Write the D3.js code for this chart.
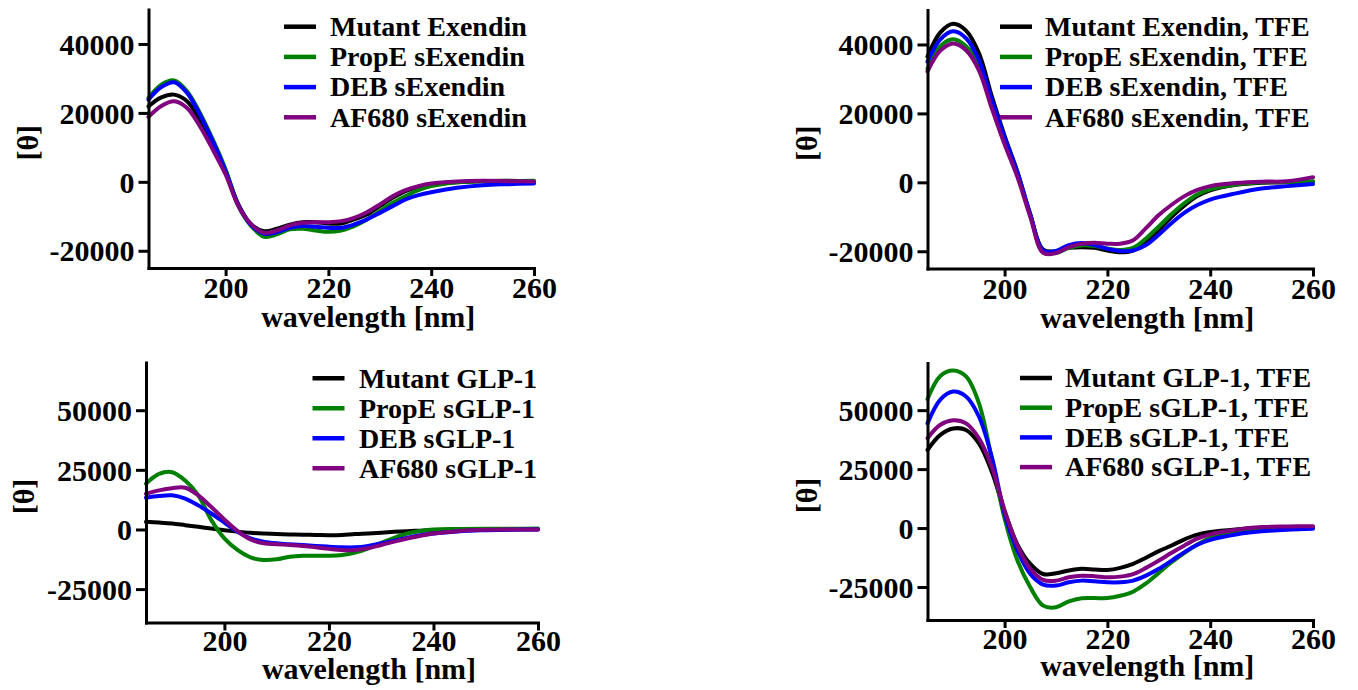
<!DOCTYPE html>
<html>
<head>
<meta charset="utf-8">
<script src="https://cdn.jsdelivr.net/npm/d3@7"></script>
<style>
  body { margin: 0; background: #ffffff; }
  svg { display: block; }
  text { font-family: "Liberation Serif", "Times New Roman", serif; font-weight: bold; fill: #000; }
</style>
</head>
<body>
<svg id="chart" width="1358" height="690"></svg>
<script>
// ---------- DATA ----------
const wavelengths = [185,187.5,190,192.5,195,197.5,200,202.5,205,207.5,210,212.5,215,217.5,220,222.5,225,227.5,230,232.5,235,237.5,240,245,250,255,260];

const xTicks = [200, 220, 240, 260];
const yTicksExendin = [-20000, 0, 20000, 40000];
const yTicksGLP = [-25000, 0, 25000, 50000];

const seriesColors = ["#000000", "#008000", "#0000ff", "#800080"];

// Panel A: Exendin (buffer)
const mutantExendin = [21900,24500,25300,23400,18000,11300,3100,-6600,-12400,-14300,-13600,-12400,-11700,-11700,-12100,-12100,-10900,-9500,-7050,-4640,-2700,-1450,-770,-100,200,300,100];
const propEExendin  = [24350,28200,29400,26300,20000,12300,3600,-7050,-12850,-15940,-15260,-13800,-13600,-14100,-14500,-14100,-12850,-10900,-8500,-6090,-4150,-2400,-1250,-100,200,200,300];
const debExendin    = [23860,27500,28900,25800,19500,11800,3100,-6860,-12650,-15070,-14600,-13330,-12850,-13040,-13330,-13330,-12360,-10900,-9000,-7050,-5120,-3860,-3000,-1740,-970,-680,-480];
const af680Exendin  = [18840,22000,23380,21450,16130,9370,2130,-7050,-12360,-14780,-14100,-12650,-11900,-11700,-11700,-11400,-10430,-8800,-6570,-4150,-2420,-1250,-480,100,300,200,100];
const legendExendin = ["Mutant Exendin", "PropE sExendin", "DEB sExendin", "AF680 sExendin"];

// Panel B: Exendin, TFE
const mutantExendinTFE = [36500,43500,46000,44000,37500,25000,13500,3000,-9500,-19500,-20000,-19000,-18800,-19000,-19800,-20300,-19800,-17300,-13800,-10000,-6700,-4000,-2300,-700,-100,0,200];
const propEExendinTFE  = [33000,39500,41500,39500,34000,23000,12500,2500,-9500,-20000,-20500,-19000,-18300,-18500,-19200,-19600,-19000,-16300,-12800,-9200,-6000,-3500,-2000,-600,0,100,300];
const debExendinTFE    = [35000,41500,43800,41800,35500,24000,13000,2800,-9200,-19800,-19900,-18200,-17600,-18200,-19300,-19900,-19800,-18200,-15200,-11800,-8800,-6600,-5000,-3200,-1800,-1100,-500];
const af680ExendinTFE  = [32200,38200,40300,38300,32500,21500,11000,1500,-10000,-20500,-20500,-18800,-17800,-17500,-17800,-17800,-16800,-13300,-9500,-6500,-4000,-2200,-1100,-200,200,300,1500];
const legendExendinTFE = ["Mutant Exendin, TFE", "PropE sExendin, TFE", "DEB sExendin, TFE", "AF680 sExendin, TFE"];

// Panel C: GLP-1 (buffer)
const mutantGLP = [3200,2900,2500,1800,1100,400,-300,-900,-1400,-1700,-1900,-2100,-2200,-2300,-2400,-2300,-1900,-1700,-1400,-1000,-700,-500,-300,0,100,100,100];
const propEGLP  = [19200,23300,24000,20500,14300,3900,-3750,-8600,-11700,-12800,-12500,-11400,-11000,-11000,-11000,-10700,-9700,-7900,-5600,-3500,-1700,-600,0,200,300,300,400];
const debGLP    = [13300,14000,14300,12900,10100,6700,2900,-1000,-3750,-5100,-5800,-6200,-6500,-6900,-7200,-7500,-7500,-6900,-5800,-4700,-3500,-2400,-1700,-700,-300,-100,0];
const af680GLP  = [15000,16400,17300,17500,14300,9400,4200,-600,-4200,-5800,-6200,-6500,-6900,-7500,-8100,-8600,-8600,-7900,-6500,-5100,-3800,-2600,-1700,-600,-100,0,0];
const legendGLP = ["Mutant GLP-1", "PropE sGLP-1", "DEB sGLP-1", "AF680 sGLP-1"];

// Panel D: GLP-1, TFE
const mutantGLPTFE = [33100,39500,42200,41600,35900,24000,7000,-7000,-15200,-19500,-19200,-18000,-17300,-17600,-17800,-16900,-15200,-12600,-9800,-7400,-4800,-2800,-1700,-600,0,200,400];
const propEGLPTFE  = [54700,64500,66800,64300,53000,29400,4000,-13800,-25100,-32900,-33600,-31100,-29800,-29700,-29700,-28700,-27000,-23500,-19000,-14500,-10500,-7000,-4200,-1500,-300,200,400];
const debGLPTFE    = [44400,54500,57900,55800,47300,30200,6100,-9500,-19500,-24000,-24400,-23000,-22300,-22600,-23000,-23000,-22300,-20200,-17300,-13800,-10200,-7100,-5000,-2700,-1400,-700,-300];
const af680GLPTFE  = [38100,43800,45700,44400,38100,26000,7500,-7400,-17300,-22000,-22300,-20900,-20200,-20400,-20900,-20600,-19500,-16900,-13800,-10500,-7400,-4500,-2700,-700,400,700,800];
const legendGLPTFE = ["Mutant GLP-1, TFE", "PropE sGLP-1, TFE", "DEB sGLP-1, TFE", "AF680 sGLP-1, TFE"];

const xLabel = "wavelength [nm]";
const yLabel = "[θ]";

// ---------- LAYOUT ----------
const panels = [
  { series: [mutantExendin, propEExendin, debExendin, af680Exendin], labels: legendExendin,
    yTicks: yTicksExendin, yDomain: [-25000, 50000],
    xRange: [148.5, 534], yRange: [268, 9.5], tickGap: 30, titleGap: 59,
    legend: { lineX: 284, textX: 330, y0: 26.7, dy: 30.2 }, yLabelX: 28 },
  { series: [mutantExendinTFE, propEExendinTFE, debExendinTFE, af680ExendinTFE], labels: legendExendinTFE,
    yTicks: yTicksExendin, yDomain: [-25000, 50000],
    xRange: [927.5, 1313], yRange: [268.5, 10], tickGap: 30, titleGap: 59,
    legend: { lineX: 1000, textX: 1045, y0: 26.7, dy: 30.2 }, yLabelX: 807 },
  { series: [mutantGLP, propEGLP, debGLP, af680GLP], labels: legendGLP,
    yTicks: yTicksGLP, yDomain: [-39000, 70000],
    xRange: [146, 538], yRange: [622.5, 362.5], tickGap: 28.5, titleGap: 56,
    legend: { lineX: 312.5, textX: 359, y0: 378.3, dy: 30 }, yLabelX: 24 },
  { series: [mutantGLPTFE, propEGLPTFE, debGLPTFE, af680GLPTFE], labels: legendGLPTFE,
    yTicks: yTicksGLP, yDomain: [-39000, 70000],
    xRange: [927.5, 1313], yRange: [620, 363], tickGap: 29, titleGap: 56,
    legend: { lineX: 1020, textX: 1065, y0: 378, dy: 29.7 }, yLabelX: 807 }
];

const svg = d3.select("#chart");

panels.forEach(p => {
  const x = d3.scaleLinear().domain([185, 260]).range(p.xRange);
  const y = d3.scaleLinear().domain(p.yDomain).range(p.yRange);
  const g = svg.append("g");

  // curves
  const line = d3.line()
    .x((d, i) => x(wavelengths[i]))
    .y(d => y(d))
    .curve(d3.curveCatmullRom.alpha(0.5));

  p.series.forEach((s, i) => {
    g.append("path")
      .attr("d", line(s))
      .attr("fill", "none")
      .attr("stroke", seriesColors[i])
      .attr("stroke-width", 4)
      .attr("stroke-linejoin", "round")
      .attr("stroke-linecap", "round");
  });

  // axes
  const yAxis = d3.axisLeft(y).tickValues(p.yTicks).tickSize(10).tickSizeOuter(0).tickPadding(4)
    .tickFormat(d => String(d));
  const xAxis = d3.axisBottom(x).tickValues(xTicks).tickSize(8).tickSizeOuter(0).tickPadding(4)
    .tickFormat(d => String(d));

  const ya = g.append("g").attr("transform", `translate(${p.xRange[0]},0)`).call(yAxis);
  const xa = g.append("g").attr("transform", `translate(0,${p.yRange[0]})`).call(xAxis);

  [ya, xa].forEach(a => {
    a.attr("font-family", null).attr("font-size", null);
    a.select(".domain").attr("stroke", "#000").attr("stroke-width", 3).attr("stroke-linecap", "square");
    a.selectAll(".tick line").attr("stroke", "#000").attr("stroke-width", 3);
    a.selectAll(".tick text")
      .attr("font-family", "Liberation Serif, Times New Roman, serif")
      .attr("font-weight", "bold")
      .attr("font-size", 30)
      .attr("fill", "#000");
  });
  ya.selectAll(".tick text").attr("dy", "0.34em");
  xa.selectAll(".tick text").attr("y", p.tickGap).attr("dy", 0);

  // x title
  const xMid = (p.xRange[0] + p.xRange[1]) / 2 + 27;
  g.append("text")
    .attr("x", xMid)
    .attr("y", p.yRange[0] + p.titleGap)
    .attr("text-anchor", "middle")
    .attr("font-size", 30)
    .text(xLabel);

  // y title
  const yMid = (p.yRange[0] + p.yRange[1]) / 2 + 4;
  g.append("text")
    .attr("transform", `translate(${p.yLabelX + 10},${yMid}) rotate(-90)`)
    .attr("text-anchor", "middle")
    .attr("font-size", 30)
    .text(yLabel);

  // legend
  p.labels.forEach((lab, i) => {
    const ly = p.legend.y0 + i * p.legend.dy;
    g.append("line")
      .attr("x1", p.legend.lineX).attr("x2", p.legend.lineX + 32)
      .attr("y1", ly).attr("y2", ly)
      .attr("stroke", seriesColors[i]).attr("stroke-width", 4.5);
    g.append("text")
      .attr("x", p.legend.textX)
      .attr("y", ly)
      .attr("dy", "0.33em")
      .attr("font-size", 28)
      .text(lab);
  });
});
</script>
</body>
</html>
